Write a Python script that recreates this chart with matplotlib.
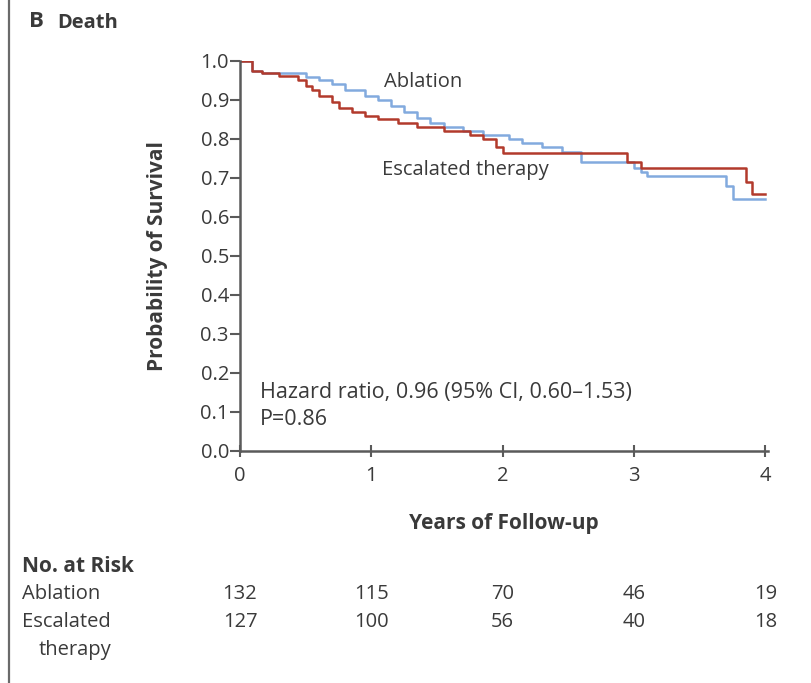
import matplotlib.pyplot as plt
from matplotlib.lines import Line2D
import matplotlib.transforms as mtransforms

plt.rcParams['font.family'] = ['Open Sans', 'DejaVu Sans']

# Kaplan-Meier curves
abl_t = [0, 0.09, 0.17, 0.5, 0.6, 0.7, 0.8, 0.95, 1.05, 1.15, 1.25, 1.35, 1.45, 1.55,
         1.7, 1.85, 2.05, 2.15, 2.3, 2.45, 2.6, 3.0, 3.05, 3.1, 3.7, 3.75, 4.0]
abl_s = [1.0, 0.975, 0.97, 0.96, 0.95, 0.94, 0.925, 0.91, 0.90, 0.885, 0.87, 0.855, 0.84, 0.83,
         0.82, 0.81, 0.80, 0.79, 0.78, 0.767, 0.74, 0.725, 0.715, 0.705, 0.68, 0.645, 0.645]

esc_t = [0, 0.09, 0.17, 0.3, 0.44, 0.5, 0.55, 0.6, 0.7, 0.75, 0.85, 0.95, 1.05, 1.2, 1.35,
         1.55, 1.75, 1.85, 1.95, 2.0, 2.95, 3.05, 3.85, 3.9, 4.0]
esc_s = [1.0, 0.975, 0.97, 0.962, 0.95, 0.935, 0.925, 0.91, 0.895, 0.88, 0.87, 0.86, 0.85, 0.84, 0.83,
         0.82, 0.81, 0.80, 0.78, 0.765, 0.74, 0.725, 0.69, 0.66, 0.66]

risk_years = [0, 1, 2, 3, 4]
risk_abl = [132, 115, 70, 46, 19]
risk_esc = [127, 100, 56, 40, 18]

txt = '#3a3a3a'
axc = '#5a5a5a'
fs = 14.5

fig = plt.figure(figsize=(8.12, 6.83), dpi=100)
ax = fig.add_axes([0.2956, 0.3397, 0.6502, 0.571])

ax.step(abl_t, abl_s, where='post', color='#82aade', lw=1.8)
ax.step(esc_t, esc_s, where='post', color='#b23a2c', lw=1.8)

ax.set_xlim(0, 4.02)
ax.set_ylim(0, 1.0)
ax.set_xticks([0, 1, 2, 3, 4])
ax.set_yticks([i / 10 for i in range(11)])
ax.set_yticklabels([f'{i / 10:.1f}' for i in range(11)])
for s in ['top', 'right']:
    ax.spines[s].set_visible(False)
for s in ['left', 'bottom']:
    ax.spines[s].set_color(axc)
    ax.spines[s].set_linewidth(1.8)
ax.tick_params(axis='y', direction='out', length=7, width=1.5, color=axc,
               labelsize=fs, labelcolor=txt, pad=1)
ax.tick_params(axis='x', direction='inout', length=8, width=1.5, color=axc,
               labelsize=fs, labelcolor=txt, pad=7)

ax.set_xlabel('Years of Follow-up', fontsize=15, fontweight='bold', color=txt, labelpad=19)
ax.set_ylabel('Probability of Survival', fontsize=15, fontweight='bold', color=txt, labelpad=23)

ax.text(1.10, 0.946, 'Ablation', fontsize=fs, color=txt, va='center')
ax.text(1.08, 0.72, 'Escalated therapy', fontsize=fs, color=txt, va='center')
ax.text(0.15, 0.149, 'Hazard ratio, 0.96 (95% CI, 0.60\u20131.53)', fontsize=15.5, color=txt, va='center')
ax.text(0.15, 0.08, 'P=0.86', fontsize=15.5, color=txt, va='center')

fig.text(0.036, 0.968, 'B', fontsize=16, fontweight='bold', color=txt, va='center')
fig.text(0.071, 0.966, 'Death', fontsize=14.5, fontweight='bold', color=txt, va='center')

fig.add_artist(Line2D([0.0105, 0.0105], [0.0, 1.0], color='#6a6a6a', lw=1.6))

# number at risk table
fig.text(0.027, 0.171, 'No. at Risk', fontsize=15, fontweight='bold', color=txt, va='center')
fig.text(0.027, 0.130, 'Ablation', fontsize=fs, color=txt, va='center')
fig.text(0.027, 0.089, 'Escalated', fontsize=fs, color=txt, va='center')
fig.text(0.047, 0.048, 'therapy', fontsize=fs, color=txt, va='center')
trans = mtransforms.blended_transform_factory(ax.transData, fig.transFigure)
for x, a, e in zip(risk_years, risk_abl, risk_esc):
    ax.text(x, 0.130, str(a), transform=trans, fontsize=fs, color=txt, ha='center', va='center')
    ax.text(x, 0.089, str(e), transform=trans, fontsize=fs, color=txt, ha='center', va='center')

fig.savefig('out.png', dpi=100)
